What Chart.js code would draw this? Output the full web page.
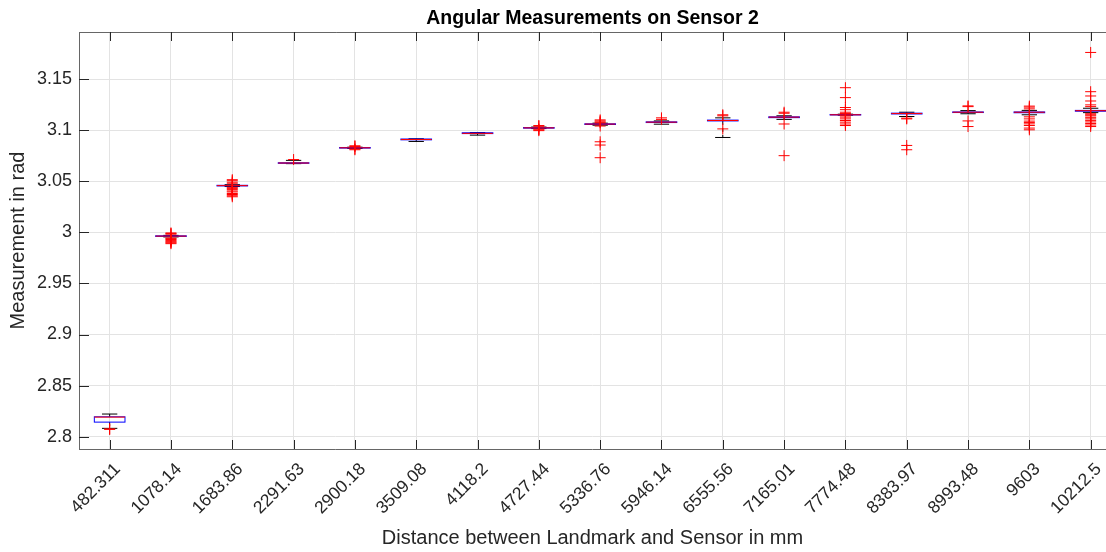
<!DOCTYPE html>
<html>
<head>
<meta charset="utf-8">
<script src="https://cdn.jsdelivr.net/npm/chart.js@4.4.0/dist/chart.umd.min.js"></script>
<style>
  html, body { margin: 0; padding: 0; background: #fff; }
</style>
</head>
<body>
<canvas id="graphique-capteur" width="1106" height="552"></canvas>
<script>
/** Catégories (distance en mm) */
const distances = ['482.311', '1078.14', '1683.86', '2291.63', '2900.18', '3509.08', '4118.2', '4727.44',
  '5336.76', '5946.14', '6555.56', '7165.01', '7774.48', '8383.97', '8993.48', '9603', '10212.5'];

/** Statistiques des boîtes */
const medians = [2.8192, 2.9963, 3.0457, 3.0678, 3.0827, 3.0908, 3.0968, 3.1022, 3.1059,
  3.1078, 3.1094, 3.1127, 3.1150, 3.1162, 3.1175, 3.1175, 3.1190];
const q1 = [2.8143, 2.9960, 3.0454, 3.0675, 3.0824, 3.0905, 3.0966, 3.1019, 3.1055,
  3.1074, 3.1090, 3.1122, 3.1148, 3.1158, 3.1172, 3.1170, 3.1185];
const q3 = [2.8195, 2.9966, 3.0460, 3.0681, 3.0830, 3.0913, 3.0974, 3.1025, 3.1062,
  3.1081, 3.1098, 3.1130, 3.1153, 3.1166, 3.1178, 3.1178, 3.1193];
const whiskerLow = [2.8082, 2.9955, 3.0448, 3.0672, 3.0820, 3.0889, 3.0951, 3.1015, 3.1048,
  3.1058, 3.0928, 3.1105, 3.1146, 3.1133, 3.1160, 3.1150, 3.1171];
const whiskerHigh = [2.8222, 2.9970, 3.0466, 3.0704, 3.0833, 3.0915, 3.0976, 3.1030, 3.1068,
  3.1090, 3.1120, 3.1140, 3.1156, 3.1175, 3.1191, 3.1193, 3.1214];

/** Valeurs aberrantes */
const outliers = [
  [2.8076, 2.8072],
  [2.9994, 2.9988, 2.9982, 2.9944, 2.9938, 2.9930, 2.9921, 2.9912, 2.9904, 2.9897, 2.9889],
  [3.0515, 3.0505, 3.0490, 3.0475, 3.0440, 3.0430, 3.0420, 3.0405, 3.0395, 3.0380, 3.0370, 3.0358, 3.0348],
  [3.0712],
  [3.0847, 3.0840, 3.0815, 3.0808],
  [],
  [],
  [3.1045, 3.1038, 3.1010, 3.1002, 3.0995],
  [3.1100, 3.1090, 3.1080, 3.1072, 3.1040, 3.0886, 3.0854, 3.0730],
  [3.1120, 3.1105],
  [3.1150, 3.1140, 3.1012],
  [3.1175, 3.1165, 3.1060, 3.0750],
  [3.1415, 3.1318, 3.1221, 3.1200, 3.1175, 3.1162, 3.1140, 3.1127, 3.1110, 3.1094, 3.1078, 3.1060, 3.1045],
  [3.1117, 3.1110, 3.0850, 3.0808],
  [3.1237, 3.1230, 3.1090, 3.1035],
  [3.1235, 3.1225, 3.1208, 3.1130, 3.1110, 3.1088, 3.1075, 3.1061, 3.1045, 3.1020, 3.1003],
  [3.1760, 3.1376, 3.1334, 3.1285, 3.1247, 3.1230, 3.1160, 3.1150, 3.1140, 3.1125, 3.1110, 3.1095,
    3.1080, 3.1065, 3.1050, 3.1035]
];

/** Graduations de l'axe Y */
const yTicks = [2.8, 2.85, 2.9, 2.95, 3, 3.05, 3.1, 3.15];

const police = 'Liberation Sans, Arial, Helvetica, sans-serif';
const texte = '#262626';

/** Dessine les boîtes à moustaches et le cadre de l'axe */
const boitesPlugin = {
  id: 'boites',
  beforeDatasetsDraw(chart) {
    const { ctx, scales: { x, y } } = chart;
    const demi = Math.abs(x.getPixelForValue(1.25) - x.getPixelForValue(1));
    const demiCap = demi / 2;
    ctx.save();
    ctx.lineWidth = 1;
    medians.forEach((m, i) => {
      const xc = x.getPixelForValue(i + 1);
      const yHaut = y.getPixelForValue(whiskerHigh[i]);
      const yBas = y.getPixelForValue(whiskerLow[i]);
      const yQ3 = y.getPixelForValue(q3[i]);
      const yQ1 = y.getPixelForValue(q1[i]);
      const yMed = y.getPixelForValue(m);
      /** moustaches */
      ctx.strokeStyle = '#000';
      ctx.setLineDash([4, 3]);
      ctx.beginPath();
      ctx.moveTo(xc, yQ3); ctx.lineTo(xc, yHaut);
      ctx.moveTo(xc, yQ1); ctx.lineTo(xc, yBas);
      ctx.stroke();
      ctx.setLineDash([]);
      ctx.beginPath();
      ctx.moveTo(xc - demiCap, yHaut); ctx.lineTo(xc + demiCap, yHaut);
      ctx.moveTo(xc - demiCap, yBas); ctx.lineTo(xc + demiCap, yBas);
      ctx.stroke();
      /** boîte */
      ctx.strokeStyle = '#0000ff';
      ctx.strokeRect(xc - demi, yQ3, 2 * demi, yQ1 - yQ3);
      /** médiane */
      ctx.strokeStyle = '#ff0000';
      ctx.beginPath();
      ctx.moveTo(xc - demi, yMed); ctx.lineTo(xc + demi, yMed);
      ctx.stroke();
    });
    ctx.restore();
  },
  afterDraw(chart) {
    const { ctx, chartArea: a, scales: { x, y } } = chart;
    ctx.save();
    ctx.lineWidth = 1;
    ctx.strokeStyle = '#666';
    ctx.beginPath();
    ctx.moveTo(a.left + 0.5, a.top + 0.5); ctx.lineTo(a.right, a.top + 0.5);
    ctx.moveTo(a.left + 0.5, a.top); ctx.lineTo(a.left + 0.5, a.bottom + 0.5);
    ctx.moveTo(a.left, a.bottom + 0.5); ctx.lineTo(a.right, a.bottom + 0.5);
    ctx.stroke();
    ctx.strokeStyle = texte;
    ctx.beginPath();
    y.ticks.forEach(t => {
      const py = Math.round(y.getPixelForValue(t.value)) + 0.5;
      ctx.moveTo(a.left, py); ctx.lineTo(a.left + 10, py);
    });
    x.ticks.forEach(t => {
      const px = Math.round(x.getPixelForValue(t.value)) + 0.5;
      ctx.moveTo(px, a.bottom); ctx.lineTo(px, a.bottom - 9);
      ctx.moveTo(px, a.top); ctx.lineTo(px, a.top + 9);
    });
    ctx.stroke();
    ctx.restore();
  }
};

const points = outliers.flatMap((liste, i) => liste.map(v => ({ x: i + 1, y: v })));

const ctx = document.getElementById('graphique-capteur').getContext('2d');
new Chart(ctx, {
  type: 'scatter',
  data: {
    datasets: [{
      label: 'Valeurs aberrantes',
      data: points,
      pointStyle: 'cross',
      pointRadius: 5.5,
      pointBorderWidth: 1,
      borderColor: '#ff0000',
      backgroundColor: '#ff0000'
    }]
  },
  options: {
    responsive: false,
    animation: false,
    layout: { padding: 0, autoPadding: false },
    plugins: {
      legend: { display: false },
      tooltip: { enabled: false },
      title: {
        display: true,
        fullSize: false,
        text: 'Angular Measurements on Sensor 2',
        color: '#000',
        font: { family: police, size: 19.5, weight: 'bold' },
        padding: { top: 7, bottom: 1.6 }
      }
    },
    scales: {
      x: {
        type: 'linear',
        min: 0.5,
        max: 17.25,
        afterBuildTicks: s => { s.ticks = distances.map((d, i) => ({ value: i + 1 })); },
        afterFit: s => { s.height = 103; s.paddingLeft = 0; s.paddingRight = 0; },
        ticks: {
          autoSkip: false,
          minRotation: 45,
          maxRotation: 45,
          padding: 10,
          labelOffset: 8,
          color: texte,
          font: { family: police, size: 17.5 },
          callback: v => distances[v - 1]
        },
        grid: { color: '#e3e3e3', drawTicks: false },
        border: { display: false },
        title: {
          display: true,
          text: 'Distance between Landmark and Sensor in mm',
          color: texte,
          font: { family: police, size: 20 },
          padding: { top: 0, bottom: 2 }
        }
      },
      y: {
        min: 2.788,
        max: 3.196,
        afterBuildTicks: s => { s.ticks = yTicks.map(v => ({ value: v })); },
        afterFit: s => { s.width = 79; },
        ticks: {
          padding: 7,
          color: texte,
          font: { family: police, size: 18 },
          callback: v => String(v)
        },
        grid: { color: '#e3e3e3', drawTicks: false },
        border: { display: false },
        title: {
          display: true,
          text: 'Measurement in rad',
          color: texte,
          font: { family: police, size: 20 },
          padding: { top: 6.5, bottom: 0 }
        }
      }
    }
  },
  plugins: [boitesPlugin]
});
</script>
</body>
</html>
